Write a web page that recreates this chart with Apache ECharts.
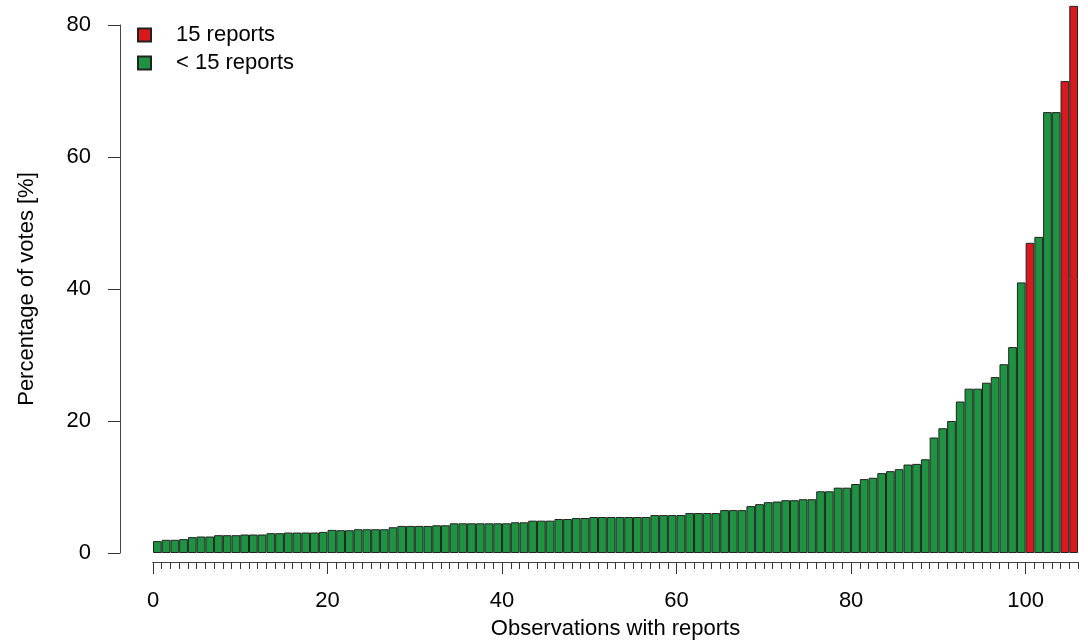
<!DOCTYPE html>
<html>
<head>
<meta charset="utf-8">
<script src="https://cdn.jsdelivr.net/npm/echarts@6/dist/echarts.min.js"></script>
<style>
html,body{margin:0;padding:0;background:#ffffff;}
#chart{width:1088px;height:640px;}
</style>
</head>
<body>
<div id="chart"></div>
<script>
// Percentage of votes per observation (sorted), observations 1..106
const votes = [
  1.8, 2.0, 2.0, 2.1, 2.4, 2.5, 2.5, 2.7, 2.7, 2.7,
  2.8, 2.8, 2.8, 3.0, 3.0, 3.1, 3.1, 3.1, 3.1, 3.2,
  3.5, 3.45, 3.45, 3.6, 3.6, 3.6, 3.6, 3.9, 4.1, 4.1,
  4.1, 4.1, 4.2, 4.2, 4.5, 4.5, 4.5, 4.5, 4.5, 4.5,
  4.5, 4.65, 4.65, 4.9, 4.9, 4.9, 5.15, 5.15, 5.3, 5.3,
  5.45, 5.45, 5.45, 5.45, 5.45, 5.45, 5.45, 5.75, 5.75, 5.75,
  5.75, 6.05, 6.05, 6.05, 6.05, 6.5, 6.5, 6.5, 7.1, 7.4,
  7.7, 7.8, 8.0, 8.0, 8.15, 8.15, 9.35, 9.35, 9.9, 9.9,
  10.45, 11.2, 11.4, 12.1, 12.4, 12.7, 13.4, 13.5, 14.2, 17.5,
  18.9, 20.0, 22.95, 24.9, 24.9, 25.8, 26.65, 28.6, 31.2, 41.0,
  47.0, 47.9, 66.8, 66.8, 71.5, 82.9
];
// Observations (1-based) with 15 reports
const fullReportObs = [101, 105, 106];
const seriesNames = ['15 reports', '< 15 reports'];
const xLabelTicks = [0, 20, 40, 60, 80, 100];
const yTicks = [0, 20, 40, 60, 80];

const nObs = votes.length;
const minorTicks = [];
for (let i = 0; i <= nObs; i++) minorTicks.push(i);

const redData = [], greenData = [];
votes.forEach((v, idx) => {
  const obs = idx + 1;
  const pt = [obs - 0.5, v];
  if (fullReportObs.includes(obs)) redData.push(pt); else greenData.push(pt);
});

const FONT = "'Liberation Sans', Arial, sans-serif";
const axisCol = '#444444';

const chart = echarts.init(document.getElementById('chart'), null, {renderer: 'canvas'});
chart.setOption({
  animation: false,
  backgroundColor: '#ffffff',
  textStyle: {fontFamily: FONT},
  grid: {left: 153, right: 10, top: 25, bottom: 87, containLabel: false, outerBoundsMode: 'none'},
  legend: {
    orient: 'vertical',
    left: 137,
    top: 24,
    padding: 0,
    itemWidth: 13,
    itemHeight: 13,
    itemGap: 6,
    icon: 'rect',
    data: seriesNames,
    textStyle: {fontFamily: FONT, fontSize: 22, color: '#000', padding: [0, 0, 0, 20]}
  },
  xAxis: [
    {
      type: 'value', min: 0, max: nObs, position: 'bottom', offset: 9,
      axisLine: {show: true, onZero: false, lineStyle: {color: axisCol, width: 1}},
      axisTick: {show: true, length: 7, customValues: minorTicks, lineStyle: {color: '#333', width: 1}},
      axisLabel: {show: false},
      splitLine: {show: false}
    },
    {
      type: 'value', min: 0, max: nObs, position: 'bottom', offset: 9,
      name: 'Observations with reports', nameLocation: 'middle', nameGap: 56,
      nameTextStyle: {fontFamily: FONT, fontSize: 22, color: '#000'},
      axisLine: {show: true, onZero: false, lineStyle: {color: axisCol, width: 1}},
      axisTick: {show: true, length: 12, customValues: xLabelTicks, lineStyle: {color: '#333', width: 1}},
      axisLabel: {show: true, customValues: xLabelTicks, margin: 28, fontFamily: FONT, fontSize: 22, color: '#000'},
      splitLine: {show: false}
    }
  ],
  yAxis: {
    type: 'value', min: yTicks[0], max: yTicks[yTicks.length - 1], interval: 20,
    offset: 33,
    name: 'Percentage of votes [%]', nameLocation: 'middle', nameGap: 82, nameRotate: 90,
    nameTextStyle: {fontFamily: FONT, fontSize: 22, color: '#000'},
    axisLine: {show: true, onZero: false, lineStyle: {color: axisCol, width: 1}},
    axisTick: {show: true, length: 12, lineStyle: {color: '#333', width: 1}},
    axisLabel: {margin: 29, fontFamily: FONT, fontSize: 22, color: '#000'},
    splitLine: {show: false}
  },
  series: [
    {
      name: seriesNames[0], type: 'bar', xAxisIndex: 0, data: redData,
      barWidth: 8.7, barGap: '-100%', clip: false,
      itemStyle: {color: '#d8191e', borderColor: '#222', borderWidth: 1}
    },
    {
      name: seriesNames[1], type: 'bar', xAxisIndex: 0, data: greenData,
      barWidth: 8.7, barGap: '-100%', clip: false,
      itemStyle: {color: '#1e9442', borderColor: '#222', borderWidth: 1}
    }
  ]
});
</script>
</body>
</html>
